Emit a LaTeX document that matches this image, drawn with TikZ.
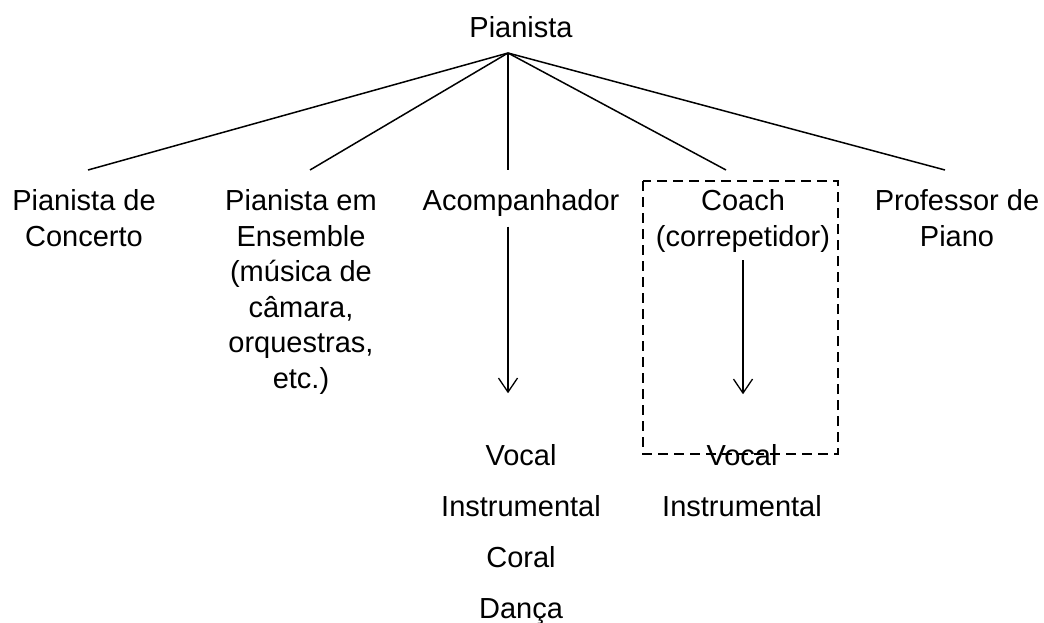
\documentclass[tikz,border=0pt]{standalone}
\usepackage{fontspec}
\setmainfont{Liberation Sans}
\usetikzlibrary{arrows.meta}

\def\itemsep{51}

\begin{document}
\begin{tikzpicture}[x=1pt, y=-1pt, line width=1.5pt, font=\fontsize{29}{35.5}\selectfont]
    \tikzstyle{txt}=[inner sep=0pt]
    \tikzstyle{role}=[txt, align=center, anchor=north]
    \tikzstyle{item}=[txt, anchor=base]
    \tikzstyle{arr}=[-{Straight Barb[length=14pt,width=19pt]}, line width=1.3pt]
    \tikzstyle{dashbox}=[line width=2.6pt, dash pattern=on 10pt off 6pt]

    \useasboundingbox (0,0) rectangle (1044,623);

    \node[item] (root) at (521,38) {Pianista};
    \coordinate (hub) at (508,53);

    \node[role] (concert)  at (84,189)  {Pianista de\\Concerto};
    \node[role] (ensemble) at (301,189) {Pianista em\\Ensemble\\(música de\\câmara,\\orquestras,\\etc.)};
    \node[role] (accomp)   at (521,189) {Acompanhador};
    \node[role] (coach)    at (743,189) {Coach\\(correpetidor)};
    \node[role] (teacher)  at (957,189) {Professor de\\Piano};

    \foreach \kid/\dx in {concert/4, ensemble/9, accomp/-13, coach/-17, teacher/-12}
        \draw (hub) -- ([xshift=\dx pt, yshift=19pt]\kid.north);

    \foreach \txt [count=\i] in {Vocal, Instrumental, Coral, Dança}
        \node[item] (A-\i) at (521, {465+\itemsep*(\i-1)}) {\txt};

    \foreach \txt [count=\i] in {Vocal, Instrumental}
        \node[item] (C-\i) at (742, {465+\itemsep*(\i-1)}) {\txt};

    \draw[arr, shorten <=9pt, shorten >=50pt] (accomp.south -| hub) -- (A-1.north -| hub);
    \draw[arr, shorten <=7pt, shorten >=49pt] (coach.south) -- (C-1.north -| coach.south);

    % box round the coach column
    \draw[dashbox] (643,181) rectangle (838,454);
\end{tikzpicture}
\end{document}
